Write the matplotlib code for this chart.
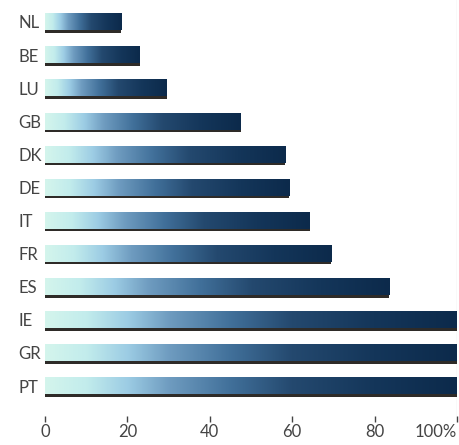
import matplotlib.pyplot as plt
import numpy as np
from matplotlib.colors import LinearSegmentedColormap

countries = ['NL', 'BE', 'LU', 'GB', 'DK', 'DE', 'IT', 'FR', 'ES', 'IE', 'GR', 'PT']
values = [18.5, 23, 29.5, 47.5, 58.3, 59.3, 64.3, 69.5, 83.5, 100, 100, 100]
xticks = [0, 20, 40, 60, 80, 100]
xtick_labels = ['0', '20', '40', '60', '80', '100%']

W, H = 459, 445
fig = plt.figure(figsize=(W / 100, H / 100), dpi=100)
left, right, top, bottom = 45, 457, 0, 416
ax = fig.add_axes([left / W, 1 - bottom / H, (right - left) / W, (bottom - top) / H])

# bar gradient: pale mint -> steel blue -> navy
cmap = LinearSegmentedColormap.from_list('bar', [
    (0.0, '#d4f5ec'),
    (0.1, '#c2ecec'),
    (0.2, '#9ccce4'),
    (0.3, '#6f9cc0'),
    (0.45, '#41709a'),
    (0.6, '#24496f'),
    (0.8, '#14365a'),
    (1.0, '#0c2a4b'),
])
grad = np.linspace(0, 1, 256).reshape(1, -1)

pitch = 33.1
h = 16.5 / pitch
sh = 2.5 / pitch
for i, v in enumerate(values):
    ax.imshow(grad, cmap=cmap, aspect='auto', interpolation='bilinear',
              extent=(0, v, i + h / 2, i - h / 2), zorder=2)
    # dark shadow line under each bar
    ax.barh(i + h / 2 + sh / 2, v, height=sh, left=0, color='#2e2b28', zorder=3)

# thin frame line on the right
ax.axvline(100, color='#9a9a9a', lw=0.8, zorder=1)

ax.set_xlim(0, 100)
ax.set_ylim((bottom - 22) / pitch, (top - 22) / pitch)

for s in ax.spines.values():
    s.set_visible(False)

ax.set_xticks(xticks)
ax.set_xticklabels(xtick_labels)
ax.tick_params(axis='x', length=4.5, width=1, color='#444444', pad=1.5,
               labelsize=12, labelcolor='#444444')
ax.get_xticklabels()[-1].set_horizontalalignment('right')

ax.set_yticks(range(len(countries)))
ax.set_yticklabels(countries)
ax.tick_params(axis='y', length=0, pad=(left - 18) * 0.72, labelsize=12, labelcolor='#444444')
for lab in ax.get_yticklabels():
    lab.set_horizontalalignment('left')

for lab in ax.get_xticklabels() + ax.get_yticklabels():
    lab.set_family(['Lato', 'DejaVu Sans'])
    lab.set_fontweight('normal')

fig.savefig('out.png', dpi=100)
